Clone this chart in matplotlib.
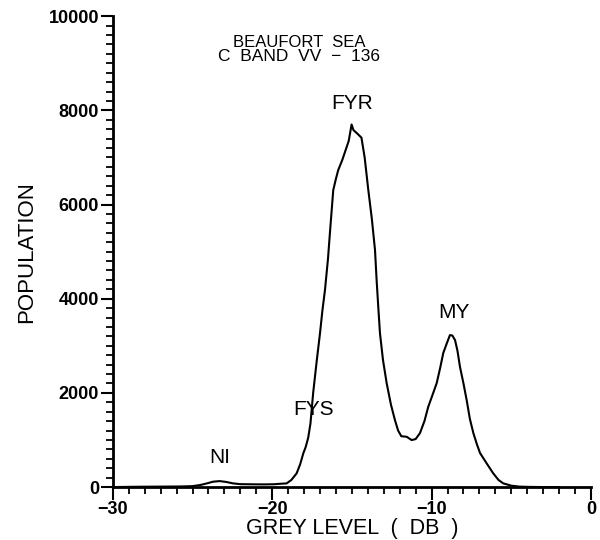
import matplotlib
matplotlib.use("Agg")
import matplotlib.pyplot as plt
from matplotlib.ticker import MultipleLocator

plt.rcParams['font.family'] = ['Liberation Sans', 'DejaVu Sans']

# grey level (dB) and population
grey_db = [-30.0, -29.0, -28.0, -27.0, -26.0, -25.5, -25.0, -24.5, -24.1, -23.7, -23.3,
           -22.9, -22.45, -22.0, -21.0, -20.5, -19.9, -19.5, -19.1, -18.8, -18.47, -18.25,
           -18.05, -17.9, -17.74, -17.6, -17.43, -17.2, -17.0, -16.85, -16.69, -16.5,
           -16.38, -16.17, -16.0, -15.86, -15.6, -15.4, -15.2, -15.02, -14.9, -14.7,
           -14.4, -14.2, -13.97, -13.75, -13.55, -13.45, -13.35, -13.24, -13.05, -12.82,
           -12.55, -12.3, -12.1, -11.9, -11.56, -11.25, -11.0, -10.73, -10.45, -10.21,
           -9.95, -9.68, -9.45, -9.27, -9.05, -8.85, -8.7, -8.53, -8.38, -8.22, -8.0,
           -7.8, -7.6, -7.38, -7.15, -6.96, -6.5, -6.13, -5.8, -5.5, -5.0, -4.5, -4.0,
           -3.0, -2.0]
population = [0, 5, 8, 10, 12, 15, 20, 45, 78, 115, 127,
              110, 78, 62, 58, 57, 60, 70, 78, 150, 290, 480,
              715, 850, 1050, 1350, 2000, 2700, 3270, 3750, 4183, 4850,
              5393, 6306, 6550, 6730, 6950, 7150, 7350, 7700, 7580, 7520,
              7420, 7000, 6306, 5700, 5032, 4400, 3850, 3270, 2700, 2208,
              1750, 1423, 1200, 1080, 1068, 998, 1020, 1146, 1400, 1705,
              1950, 2208, 2550, 2845, 3050, 3227, 3220, 3121, 2900, 2554, 2200,
              1847, 1450, 1146, 900, 722, 480, 290, 150, 78, 30, 10, 5,
              0, 0]

x_ticks = [-30, -20, -10, 0]
y_ticks = [0, 2000, 4000, 6000, 8000, 10000]

peak_labels = ["NI", "FYS", "FYR", "MY"]
peak_x = [-23.3, -17.4, -15.0, -8.6]
peak_y = [420, 1450, 7950, 3500]

fig = plt.figure(figsize=(6.0, 5.4), dpi=100)
ax = fig.add_axes([0.188, 0.098, 0.797, 0.872])

ax.plot(grey_db, population, color='black', lw=1.5)

ax.set_xlim(-30, 0)
ax.set_ylim(0, 10000)
ax.set_xticks(x_ticks)
ax.set_yticks(y_ticks)
ax.xaxis.set_minor_locator(MultipleLocator(1))
ax.yaxis.set_minor_locator(MultipleLocator(200))
ax.set_xticklabels(["\u221230", "\u221220", "\u221210", "0"])

for side in ['top', 'right']:
    ax.spines[side].set_visible(False)
for side in ['left', 'bottom']:
    ax.spines[side].set_linewidth(2)

ax.tick_params(which='major', direction='out', length=9, width=1.5, labelsize=13, pad=1)
ax.tick_params(which='minor', direction='out', length=5, width=1.3)
for lab in ax.get_yticklabels() + ax.get_xticklabels():
    lab.set_fontweight('bold')

ax.set_xlabel("GREY LEVEL  (  DB  )", fontsize=15.5, labelpad=0)
ax.set_ylabel("POPULATION", fontsize=16, labelpad=8)

for t, x, y in zip(peak_labels, peak_x, peak_y):
    ax.text(x, y, t, ha='center', va='bottom', fontsize=15)

ax.text(0.389, 0.944, "BEAUFORT  SEA", transform=ax.transAxes, ha='center', va='center', fontsize=12)
ax.text(0.389, 0.915, "C  BAND  VV  \u2212  136", transform=ax.transAxes, ha='center', va='center', fontsize=12.5)

fig.savefig("out.png", dpi=100)
